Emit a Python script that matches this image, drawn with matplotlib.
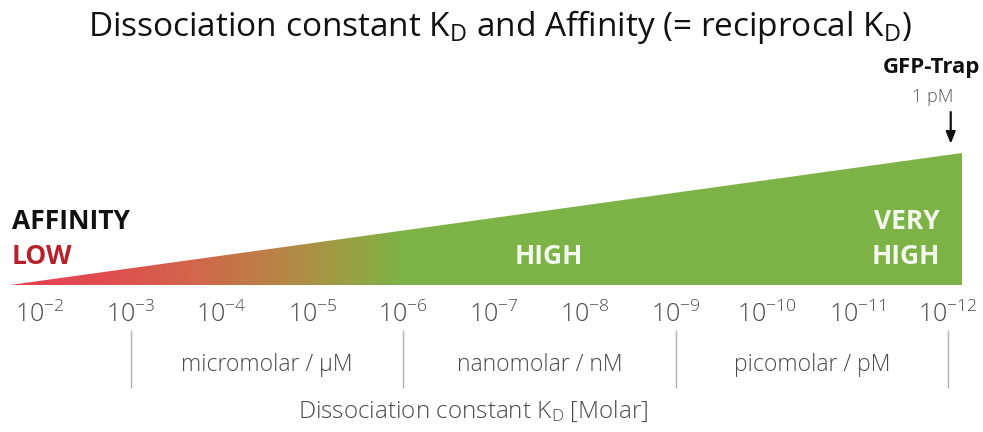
import numpy as np
import matplotlib.pyplot as plt
from matplotlib.colors import LinearSegmentedColormap
from matplotlib.patches import Polygon

plt.rcParams['font.family'] = ['Open Sans', 'DejaVu Sans']

# KD exponents shown on the axis (10^-2 ... 10^-12)
kd_exp = [-2, -3, -4, -5, -6, -7, -8, -9, -10, -11, -12]
tick_labels = [r'$\mathregular{10^{%d}}$' % e for e in kd_exp]

# unit ranges (boundaries in exponents) and names
unit_bounds = [-3, -6, -9, -12]
unit_names = ['micromolar / µM', 'nanomolar / nM', 'picomolar / pM']

# affinity wedge: rises linearly from low (left) to very high (right)
wedge_x = [1.67, 12.15]     # -log10(KD)
wedge_y = [0.0, 1.0]        # relative affinity

gfp_kd = 12   # GFP-Trap, 1 pM

W, H = 983, 432
fig = plt.figure(figsize=(W / 100, H / 100), dpi=100)
base_px = 285
ax = fig.add_axes([0, 1 - base_px / H, 1, base_px / H])
px_per_x = (948 - 40) / 10
x0 = 2 - 40 / px_per_x
ax.set_xlim(x0, x0 + W / px_per_x)
ax.set_ylim(0, base_px / 132)
for s in ax.spines.values():
    s.set_visible(False)
ax.set_yticks([])

# gradient wedge
cmap = LinearSegmentedColormap.from_list('aff', [
    (0.0, '#e83f52'), (0.10, '#e04d4f'), (0.20, '#cf684b'),
    (0.28, '#b98447'), (0.35, '#9c9f43'), (0.41, '#7db346'),
    (1.0, '#7db346')])
grad = np.linspace(0, 1, 512).reshape(1, -1)
im = ax.imshow(grad, cmap=cmap, aspect='auto',
               extent=[wedge_x[0], wedge_x[1], wedge_y[0], wedge_y[1]],
               zorder=1)
tri = Polygon([[wedge_x[0], wedge_y[0]], [wedge_x[1], wedge_y[0]],
               [wedge_x[1], wedge_y[1]]], closed=True,
              facecolor='none', edgecolor='none')
ax.add_patch(tri)
im.set_clip_path(tri)

# ticks
ax.set_xticks([-e for e in kd_exp])
ax.set_xticklabels(tick_labels, fontsize=18, color='#4a4a4a', fontweight='light')
ax.tick_params(axis='x', length=0, pad=12)

# unit separators and names
xt = ax.get_xaxis_transform()
ax.vlines([-b for b in unit_bounds], -0.158, -0.361, transform=xt,
          colors='#b0b0b0', lw=1, clip_on=False)
for i, name in enumerate(unit_names):
    xm = -(unit_bounds[i] + unit_bounds[i + 1]) / 2
    ax.text(xm, -0.281, name, transform=xt, ha='center', va='center',
            fontsize=16.5, color='#4a4a4a', fontweight='light')

fig.text(473 / W, 1 - 411 / H, r'Dissociation constant $\mathregular{K_D}$ [Molar]',
         ha='center', va='center', fontsize=17.5, color='#4a4a4a', fontweight='light')

# title
fig.text(500 / W, 1 - 27 / H,
         r'Dissociation constant $\mathregular{K_D}$ and Affinity (= reciprocal $\mathregular{K_D}$)',
         ha='center', va='center', fontsize=24, color='#111111')

# labels on the wedge
fig.text(12 / W, 1 - 222 / H, 'AFFINITY', ha='left', va='center',
         fontsize=19, fontweight='bold', color='#111111')
fig.text(12 / W, 1 - 257 / H, 'LOW', ha='left', va='center',
         fontsize=19, fontweight='bold', color='#b5232a')
fig.text(549 / W, 1 - 257 / H, 'HIGH', ha='center', va='center',
         fontsize=19, fontweight='bold', color='#f4f8ee')
fig.text(940 / W, 1 - 222 / H, 'VERY', ha='right', va='center',
         fontsize=19, fontweight='bold', color='#f4f8ee')
fig.text(940 / W, 1 - 257 / H, 'HIGH', ha='right', va='center',
         fontsize=19, fontweight='bold', color='#f4f8ee')

# GFP-Trap marker
fig.text(980 / W, 1 - 67 / H, 'GFP-Trap', ha='right', va='center',
         fontsize=16, fontweight='bold', color='#111111')
fig.text(933 / W, 1 - 97 / H, '1 pM', ha='center', va='center',
         fontsize=13, color='#555555', fontweight='light')
ax.annotate('', xy=(gfp_kd + 0.03, 1.07), xytext=(gfp_kd + 0.03, 1.31),
            arrowprops=dict(arrowstyle='-|>,head_length=0.7,head_width=0.28',
                            color='#111111', lw=1.6, shrinkA=0, shrinkB=0),
            annotation_clip=False)

fig.savefig('out.png', dpi=100, facecolor='white')
